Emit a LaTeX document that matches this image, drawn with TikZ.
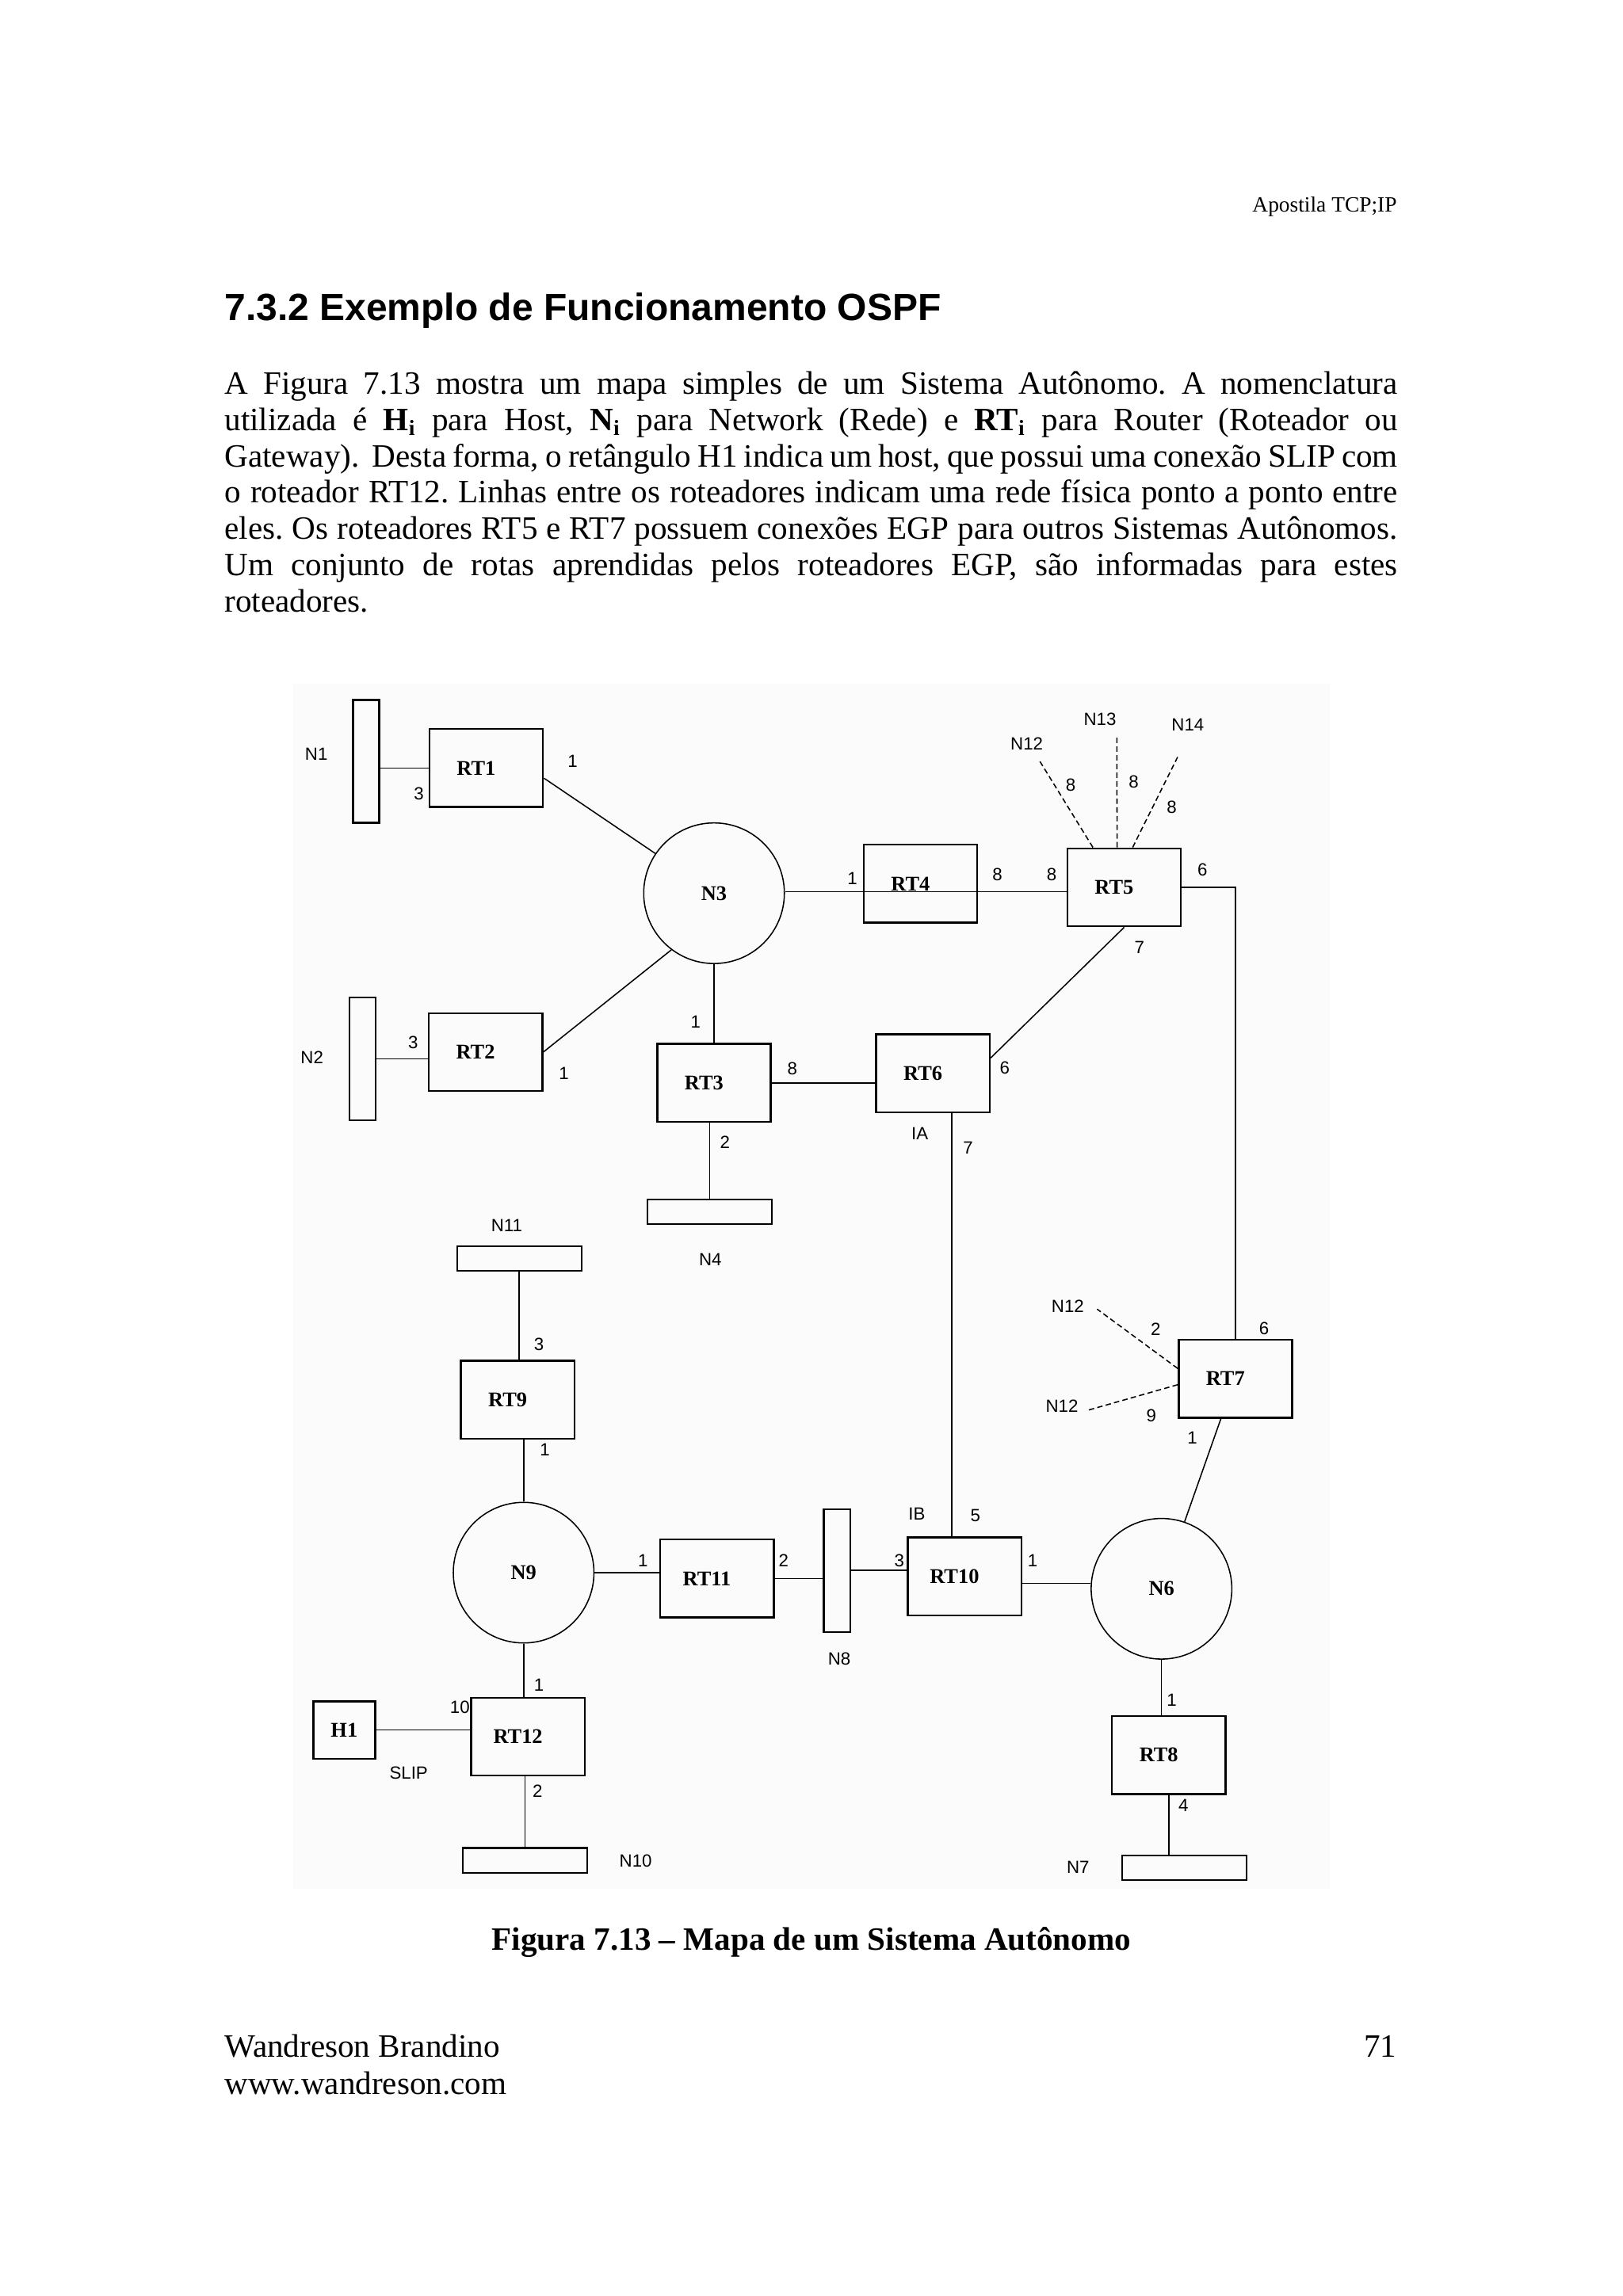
\documentclass[tikz,border=0pt]{standalone}
\usepackage{fontspec}
\setmainfont{Liberation Serif}
\newfontfamily\arialfont{Liberation Sans}
\usetikzlibrary{positioning,calc}
\frenchspacing
\tikzset{
  router/.style={draw, line width=0.7pt, minimum width=14.7mm, minimum height=10.1mm, inner sep=0pt, font=\fontsize{7.7}{8}\selectfont\bfseries, execute at end node={\hspace{2.6mm}}},
  hostbox/.style={draw, line width=0.7pt, minimum width=8mm, minimum height=7.4mm, inner sep=0pt, font=\fontsize{7.7}{8}\selectfont\bfseries},
  hbar/.style={draw, line width=0.7pt, minimum width=16.1mm, minimum height=3.2mm, inner sep=0pt},
  vbar/.style={draw, line width=0.7pt, minimum width=3.4mm, minimum height=15.9mm, inner sep=0pt},
  netcircle/.style={circle, draw, line width=0.45pt, minimum size=18.2mm, inner sep=0pt, font=\fontsize{7.7}{8}\selectfont\bfseries},
  lbl/.style={font=\arialfont\fontsize{6.5}{7}\selectfont, inner sep=0pt},
  link/.style={line width=0.45pt},
  egp/.style={line width=0.45pt, dash pattern=on 2pt off 1.2pt},
  pagetext/.style={inner sep=0pt, font=\fontsize{12}{13.4}\selectfont}
}

\begin{document}
\begin{tikzpicture}[x=0.18953mm, y=-0.18953mm]
  \useasboundingbox (0,0) rectangle (1108,1568);

  % page text
  \node[pagetext, anchor=base east, font=\fontsize{8}{9}\selectfont] (hdr) at (954,144.5) {Apostila TCP;IP};
  \node[pagetext, anchor=base west, font=\arialfont\bfseries\fontsize{14}{16}\selectfont] (title) at (153,219) {7.3.2 Exemplo de Funcionamento OSPF};
  \node[pagetext, anchor=base west] (body) at (153,269) {\parbox[t]{151.8mm}{\fontsize{12}{13.4}\selectfont
    A Figura 7.13 mostra um mapa simples de um Sistema Autônomo. A nomenclatura\linebreak
    utilizada é \textbf{H\textsubscript{i}} para Host, \textbf{N\textsubscript{i}} para Network (Rede) e \textbf{RT\textsubscript{i}} para Router (Roteador ou\linebreak
    Gateway).\ \ Desta forma, o retângulo H1 indica um host, que possui uma conexão SLIP com\linebreak
    o roteador RT12. Linhas entre os roteadores indicam uma rede física ponto a ponto entre\linebreak
    eles. Os roteadores RT5 e RT7 possuem conexões EGP para outros Sistemas Autônomos.\linebreak
    Um conjunto de rotas aprendidas pelos roteadores EGP, são informadas para estes\linebreak
    roteadores.}};

  % figure area
  \fill[black!1.5] (200,467) rectangle (908,1290);

  % networks
  \node[vbar] (n1) at (250,520) {};
  \node[vbar] (n2) at (247.5,723) {};
  \node[hbar] (n4) at (484.5,827.5) {};
  \node[hbar] (n11) at (354.5,859.5) {};
  \node[hbar] (n10) at (358.5,1270.5) {};
  \node[hbar] (n7) at (808.5,1275.5) {};
  \node[vbar] (n8) at (571.5,1072.5) {};
  \node[netcircle] (n3) at (487.5,610) {N3};
  \node[netcircle] (n9) at (357.5,1074) {N9};
  \node[netcircle] (n6) at (793,1085) {N6};

  % routers and host
  \node[router] (rt1) at (332,524.5) {RT1};
  \node[router] (rt2) at (331.5,718.5) {RT2};
  \node[router] (rt3) at (487.5,739.5) {RT3};
  \node[router] (rt4) at (628.5,603.5) {RT4};
  \node[router] (rt5) at (767.5,606) {RT5};
  \node[router] (rt6) at (637,733) {RT6};
  \node[router] (rt7) at (843.5,941.5) {RT7};
  \node[router] (rt8) at (798,1198.5) {RT8};
  \node[router] (rt9) at (353.5,956) {RT9};
  \node[router] (rt10) at (658.5,1076.5) {RT10};
  \node[router] (rt11) at (489.5,1078) {RT11};
  \node[router] (rt12) at (360.5,1186) {RT12};
  \node[hostbox] (h1) at (235,1181.5) {H1};

  % links
  \draw[link] (rt1.west) -- (rt1.west -| n1.east);
  \draw[link] (rt1.-10) -- (n3);
  \draw[link] (n2.east) -- (n2.east -| rt2.west);
  \draw[link] (rt2.east) -- (n3.233);
  \draw[link] (rt4.-8) -- (rt4.-8 -| n3.east);
  \draw[link] (rt4.-8) -- (rt4.-8 -| rt5.west);
  \draw[link] (rt5.east) -| (rt7.north);
  \draw[link] (rt5.south) -- (rt6.15);
  \draw[link] (n3.south) -- (rt3.north);
  \draw[link] (rt3.east) -- (rt3.east -| rt6.west);
  \draw[link] (n4.north) -- (n4.north |- rt3.south);
  \draw[link] (rt6.-65) -- (rt6.-65 |- rt10.north);
  \draw[link] (n11.south) -- (n11.south |- rt9.north);
  \draw[link] (n9.north) -- (n9.north |- rt9.south);
  \draw[link] (n9.east) -- (n9.east -| rt11.west);
  \draw[link] (rt11.east) -- (rt11.east -| n8.west);
  \draw[link] (n8.east) -- (n8.east -| rt10.west);
  \draw[link] (rt10.-7) -- (rt10.-7 -| n6.west);
  \draw[link] (rt7.-110) -- (n6.71);
  \draw[link] (n6.south) -- (n6.south |- rt8.north);
  \draw[link] (rt8.south) -- (rt8.south |- n7.north);
  \draw[link] (n9.south) -- (n9.south |- rt12.north);
  \draw[link] (h1.east) -- (h1.east -| rt12.west);
  \draw[link] (n10.north) -- (n10.north |- rt12.south);

  % EGP connections
  \coordinate (egp12) at (710,520);
  \coordinate (egp13) at (762.5,503);
  \coordinate (egp14) at (804,517);
  \coordinate (egp12b) at (749,894);
  \coordinate (egp12c) at (743,963);
  \draw[egp] (rt5.128) -- (egp12);
  \draw[egp] (rt5.100) -- (egp13);
  \draw[egp] (rt5.78) -- (egp14);
  \draw[egp] (rt7.170) -- (egp12b);
  \draw[egp] (rt7.186) -- (egp12c);

  % network names
  \node[lbl] (ln1) at (216,515) {N1};
  \node[lbl] (ln2) at (213,722) {N2};
  \node[lbl] (ln4) at (485,860) {N4};
  \node[lbl] (ln7) at (736,1275) {N7};
  \node[lbl] (ln8) at (573,1133) {N8};
  \node[lbl] (ln10) at (434,1271) {N10};
  \node[lbl] (ln11) at (346,837) {N11};
  \node[lbl] (ln12) at (701,508) {N12};
  \node[lbl] (ln13) at (751,491) {N13};
  \node[lbl] (ln14) at (811,495) {N14};
  \node[lbl] (ln12b) at (729,892) {N12};
  \node[lbl] (ln12c) at (725,960) {N12};
  \node[lbl] (lia) at (628,774) {IA};
  \node[lbl] (lib) at (626,1034) {IB};
  \node[lbl] (lslip) at (279,1211) {SLIP};

  % interface costs
  \node[lbl] (c1a) at (286,542) {3};
  \node[lbl] (c1b) at (391,520) {1};
  \node[lbl] (c2a) at (282,712) {3};
  \node[lbl] (c2b) at (385,733) {1};
  \node[lbl] (c3a) at (475,698) {1};
  \node[lbl] (c3b) at (541,730) {8};
  \node[lbl] (c3c) at (495,780) {2};
  \node[lbl] (c4a) at (582,600) {1};
  \node[lbl] (c4b) at (681,597) {8};
  \node[lbl] (c5a) at (718,597) {8};
  \node[lbl] (c5b) at (821,594) {6};
  \node[lbl] (c5c) at (778,647) {7};
  \node[lbl] (c5d) at (731,536) {8};
  \node[lbl] (c5e) at (774,534) {8};
  \node[lbl] (c5f) at (800,551) {8};
  \node[lbl] (c6a) at (686,729) {6};
  \node[lbl] (c6b) at (661,784) {7};
  \node[lbl] (c7a) at (863,907) {6};
  \node[lbl] (c7b) at (789,908) {2};
  \node[lbl] (c7c) at (786,967) {9};
  \node[lbl] (c7d) at (814,982) {1};
  \node[lbl] (c8a) at (800,1161) {1};
  \node[lbl] (c8b) at (808,1233) {4};
  \node[lbl] (c9a) at (368,918) {3};
  \node[lbl] (c9b) at (372,990) {1};
  \node[lbl] (c10a) at (614,1066) {3};
  \node[lbl] (c10b) at (666,1035) {5};
  \node[lbl] (c10c) at (705,1066) {1};
  \node[lbl] (c11a) at (439,1066) {1};
  \node[lbl] (c11b) at (535,1066) {2};
  \node[lbl] (c12a) at (368,1151) {1};
  \node[lbl] (c12b) at (314,1166) {10};
  \node[lbl] (c12c) at (367,1223) {2};

  % caption and footer
  \node[pagetext, anchor=base, font=\bfseries\fontsize{12}{14}\selectfont] (caption) at (554,1332) {Figura 7.13 – Mapa de um Sistema Autônomo};
  \node[pagetext, anchor=base west] (author) at (153,1405) {Wandreson Brandino};
  \node[pagetext, anchor=base west] (site) at (153,1430.5) {www.wandreson.com};
  \node[pagetext, anchor=base east] (pgnum) at (954,1405) {71};
\end{tikzpicture}
\end{document}
